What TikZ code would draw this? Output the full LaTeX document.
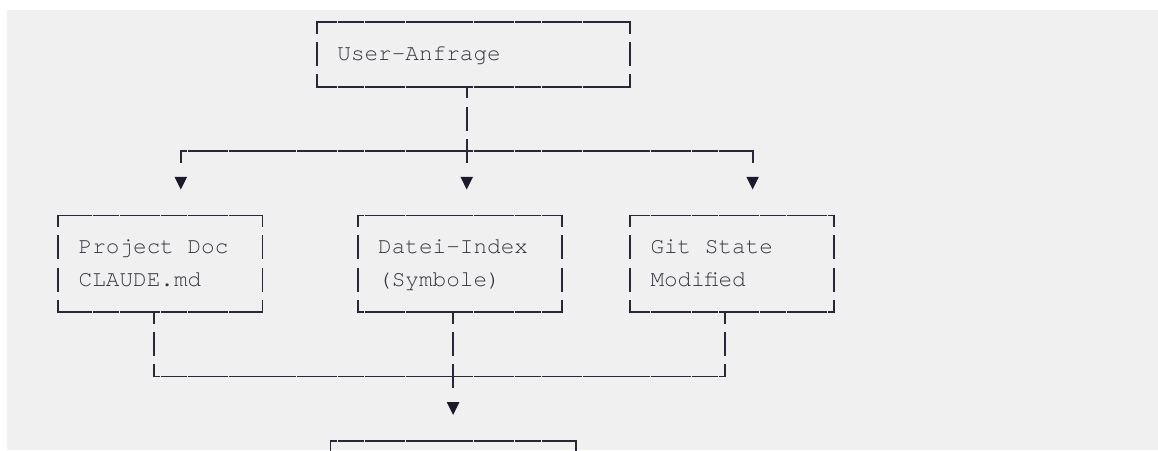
\documentclass[tikz,border=0pt]{standalone}
\usepackage{fontspec}
\newfontfamily\gridfont{texgyrecursor-regular.otf}
\definecolor{paper}{RGB}{240,240,240}
\definecolor{ink}{RGB}{40,40,56}
\definecolor{tipink}{RGB}{26,26,44}
\definecolor{textink}{RGB}{52,52,64}
% character grid: column pitch 13.614, row pitch 32.2 (y grows downwards)
\newcommand\gx[1]{58.3+13.614*(#1)}
\newcommand\gy[1]{22.3+32.2*(#1)}
% frame of a panel node: nearly solid top/bottom, broken sides
\newcommand\gridframe[1]{%
  \draw[hline] (#1.north west) -- (#1.north east);
  \draw[hline] (#1.south west) -- (#1.south east);
  \draw[vline] (#1.north west) -- (#1.south west);
  \draw[vline] (#1.north east) -- (#1.south east);}
\begin{document}
\begin{tikzpicture}[x=1pt,y=-1pt,
  panel/.style={inner sep=0pt, outer sep=0pt, minimum width=#1, minimum height=96.6pt},
  hline/.style={draw=ink, line width=1.8pt, dash pattern=on 13.264pt off 0.35pt,
    dash phase=5.732pt, shorten <=-0.9pt, shorten >=-0.9pt},
  vline/.style={draw=ink, line width=1.8pt, dash pattern=on 24pt off 8.2pt, dash phase=12.3pt},
  boxtext/.style={anchor=base west, inner sep=0pt, outer sep=0pt, text=textink,
    font=\gridfont\fontsize{22.69pt}{32.2pt}\selectfont},
  downtip/.pic={\fill[tipink] (-6.3,-6.5) -- (6.3,-6.5) -- (0,6.2) -- cycle;}]

\useasboundingbox (0,0) rectangle (1158,450);
\fill[white] (0,0) rectangle (1158,450);
\fill[paper] (7,10) rectangle (1158,450);
\clip (0,0) rectangle (1158,450);

% request box
\node[panel=313.12pt, minimum height=64.4pt] (q) at ({\gx{30.5}},{\gy{1}}) {};
\gridframe{q}
\node[boxtext] (qt) at ({\gx{20.5}},{\gy{1}+6.2}) {User-Anfrage};

% three source boxes
\node[panel=204.21pt] (pd) at ({\gx{7.5}},{\gy{7.5}}) {};
\node[panel=204.21pt] (di) at ({\gx{29.5}},{\gy{7.5}}) {};
\node[panel=204.21pt] (gs) at ({\gx{49.5}},{\gy{7.5}}) {};
\gridframe{pd}
\gridframe{di}
\gridframe{gs}
\node[boxtext] (pd1) at ({\gx{1.5}},{\gy{7}+6.2}) {Project Doc};
\node[boxtext] (pd2) at ({\gx{1.5}},{\gy{8}+6.2}) {CLAUDE.md};
\node[boxtext] (di1) at ({\gx{23.5}},{\gy{7}+6.2}) {Datei-Index};
\node[boxtext] (di2) at ({\gx{23.5}},{\gy{8}+6.2}) {(Symbole)};
\node[boxtext] (gs1) at ({\gx{43.5}},{\gy{7}+6.2}) {Git State};
\node[boxtext] (gs2) at ({\gx{43.5}},{\gy{8}+6.2}) {Modified};

% result box (continues below)
\node[panel=245.05pt] (res) at ({\gx{29}},{\gy{14.5}}) {};
\gridframe{res}

% fan-out from the request
\coordinate (j1) at ({\gx{9}},{\gy{4}});
\coordinate (j2) at ({\gx{30}},{\gy{4}});
\coordinate (j3) at ({\gx{51}},{\gy{4}});
\draw[vline] (j2 |- q.south) -- ([yshift=-11.7pt]j2);
\draw[hline] (j1) -- (j3);
\draw[vline] (j1) -- ([yshift=-11.7pt]j1);
\draw[vline] (j3) -- ([yshift=-11.7pt]j3);
\coordinate (t1) at ({\gx{9}},{\gy{5}});
\coordinate (t2) at ({\gx{30}},{\gy{5}});
\coordinate (t3) at ({\gx{51}},{\gy{5}});
\pic at (t1) {downtip};
\pic at (t2) {downtip};
\pic at (t3) {downtip};

% merge into the result
\coordinate (m1) at ({\gx{7}},{\gy{11}});
\coordinate (m2) at ({\gx{29}},{\gy{11}});
\coordinate (m3) at ({\gx{49}},{\gy{11}});
\draw[vline] (m1 |- pd.south) -- (m1);
\draw[vline] (m2 |- di.south) -- ([yshift=-11.7pt]m2);
\draw[vline] (m3 |- gs.south) -- (m3);
\draw[hline] (m1) -- (m3);
\coordinate (t4) at ({\gx{29}},{\gy{12}});
\pic at (t4) {downtip};
\end{tikzpicture}
\end{document}
